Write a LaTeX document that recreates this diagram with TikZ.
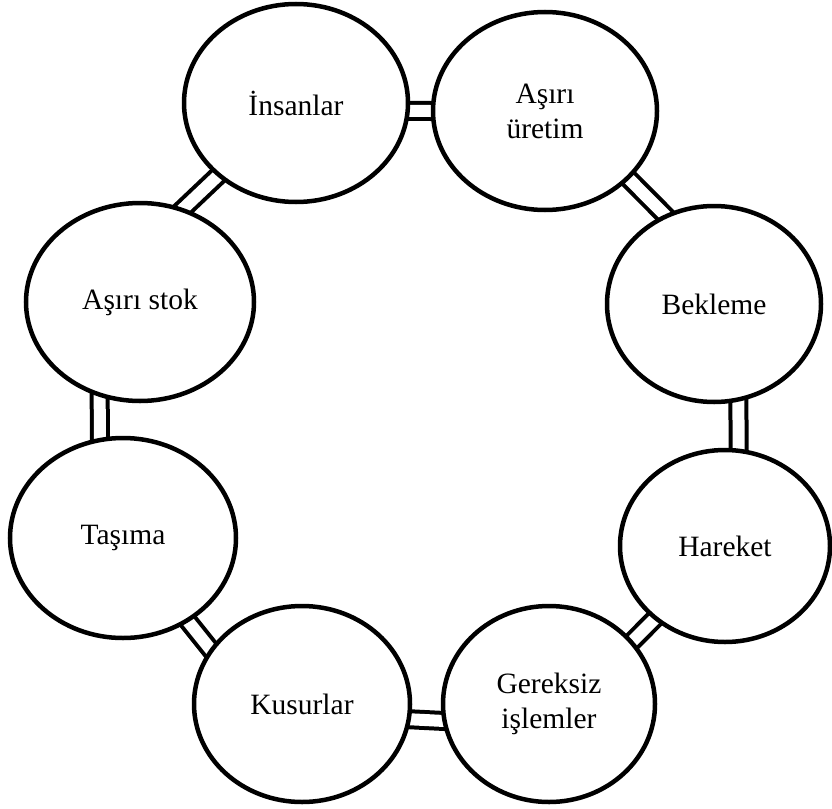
\documentclass[tikz,border=0pt]{standalone}
\usepackage{fontspec}
\setmainfont{Liberation Serif}
\usetikzlibrary{shapes.geometric,backgrounds}
\begin{document}
\begin{tikzpicture}[x=1pt,y=-1pt,
  waste/.style={ellipse,draw,line width=4.5pt,fill=white,inner sep=0pt,
    align=center,font=\fontsize{29.5}{35}\selectfont},
  link/.style={draw,line width=4pt,double=white,double distance=12pt,
    shorten <=-10pt,shorten >=-10pt}]
\useasboundingbox (0,0) rectangle (832,808);

% the eight kinds of waste, arranged in a ring
\node[waste,minimum width=224pt,minimum height=198pt] (ins)  at (296,103) {İnsanlar};
\node[waste,minimum width=224pt,minimum height=198pt] (ure)  at (545,111) {Aşırı\\üretim};
\node[waste,minimum width=214pt,minimum height=196pt] (bek)  at (714,304) {Bekleme};
\node[waste,minimum width=210pt,minimum height=192pt] (har)  at (725,546) {Hareket};
\node[waste,minimum width=212pt,minimum height=196pt] (ger)  at (549,704) {Gereksiz\\işlemler};
\node[waste,minimum width=216pt,minimum height=196pt] (kus)  at (302,704) {Kusurlar};
\node[waste,minimum width=226pt,minimum height=200pt] (tas)  at (123,538) {Taşıma};
\node[waste,minimum width=228pt,minimum height=198pt] (stok) at (140,302) {Aşırı stok};

% double-line links between neighbouring ellipses
\begin{pgfonlayer}{background}
\draw[link] (ins.-4)   -- (ure.180);
\draw[link] (ure.-39)  -- (bek.119);
\draw[link] (bek.-76)  -- (har.82);
\draw[link] (har.226)  -- (ger.37);
\draw[link] (ger.189)  -- (kus.-8);
\draw[link] (kus.149)  -- (tas.-52);
\draw[link] (tas.103)  -- (stok.247);
\draw[link] (stok.65)  -- (ins.223);
\end{pgfonlayer}
\end{tikzpicture}
\end{document}
